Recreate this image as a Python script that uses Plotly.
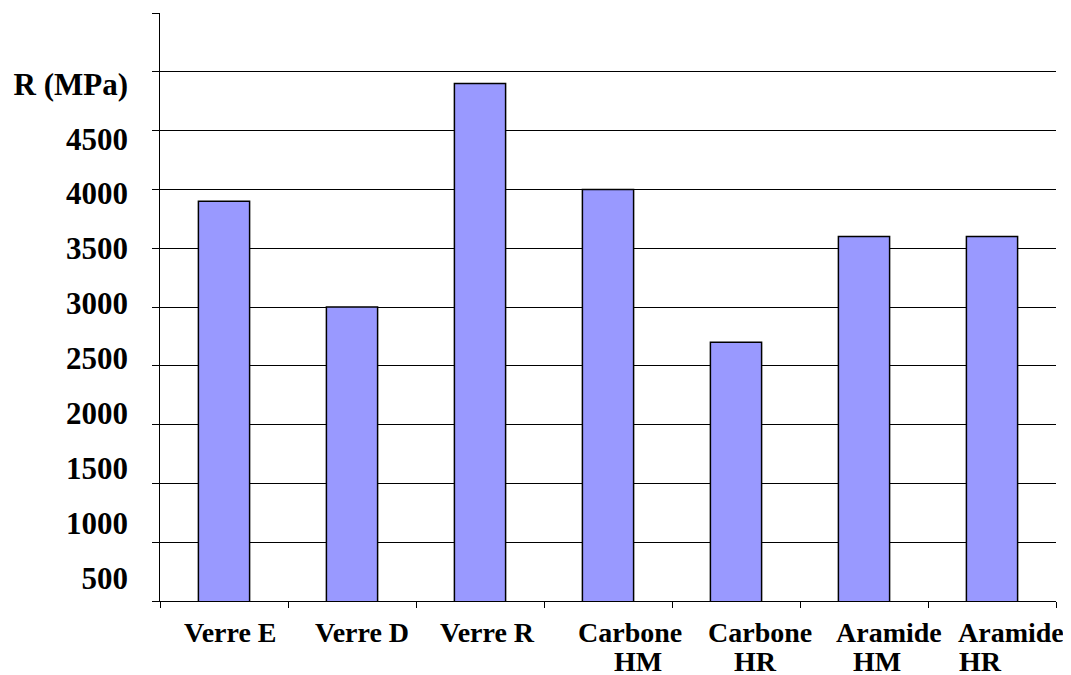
import plotly.graph_objects as go

# ---- data ----
categories = ["Verre E", "Verre D", "Verre R", "Carbone HM", "Carbone HR", "Aramide HM", "Aramide HR"]
label_line1 = ["Verre E", "Verre D", "Verre R", "Carbone", "Carbone", "Aramide", "Aramide"]
label_line2 = ["", "", "", "HM", "HR", "HM", "HR"]
resistance_mpa = [3900, 3000, 4900, 4000, 2700, 3600, 3600]
y_tick_values = [500, 1000, 1500, 2000, 2500, 3000, 3500, 4000, 4500, 5000]
y_tick_labels = ["500", "1000", "1500", "2000", "2500", "3000", "3500", "4000", "4500", "R (MPa)"]

# ---- style ----
FONT = "Liberation Serif, Times New Roman, serif"
line1_shift = [6, 10, 7, 22, 24, 25, 19]
line2_shift = [0, 0, 0, 30, 19, 13, -12]

fig = go.Figure()
fig.add_trace(go.Bar(
    x=categories, y=resistance_mpa, width=0.4,
    marker=dict(color="#9999FF", line=dict(color="black", width=1.5)),
    showlegend=False, hoverinfo="x+y",
))
# carrier for the left label axis
fig.add_trace(go.Scatter(
    x=categories, y=[None] * len(categories), yaxis="y2", mode="markers",
    showlegend=False, hoverinfo="skip",
))

annotations = []
for i, cat in enumerate(categories):
    annotations.append(dict(x=cat, xref="x", y=0, yref="paper", text=label_line1[i],
                            showarrow=False, yanchor="middle", yshift=-31, xshift=line1_shift[i],
                            font=dict(family=FONT, size=28, color="black", weight="bold")))
    if label_line2[i]:
        annotations.append(dict(x=cat, xref="x", y=0, yref="paper", text=label_line2[i],
                                showarrow=False, yanchor="middle", yshift=-60, xshift=line2_shift[i],
                                font=dict(family=FONT, size=28, color="black", weight="bold")))

fig.update_layout(
    width=1063, height=667,
    margin=dict(l=152, r=15, t=5, b=74),
    paper_bgcolor="white", plot_bgcolor="white",
    xaxis=dict(
        type="category", tickson="boundaries", showticklabels=False,
        ticks="outside", ticklen=6, tickcolor="black", tickwidth=1,
        showline=True, linecolor="black", linewidth=1, showgrid=False,
        range=[-0.5, 6.5],
    ),
    yaxis=dict(
        range=[500, 5500], dtick=500, tick0=500,
        showticklabels=False, ticks="outside", ticklen=7, tickcolor="black",
        showgrid=True, gridcolor="black", gridwidth=1,
        showline=True, linecolor="black", linewidth=1, zeroline=False,
    ),
    yaxis2=dict(
        overlaying="y", side="left", range=[295, 5643],
        tickmode="array", tickvals=y_tick_values, ticktext=y_tick_labels,
        showgrid=False, showline=False, zeroline=False, ticks="", ticklabelstandoff=31,
        tickfont=dict(family=FONT, size=31, color="black", weight="bold"),
    ),
    annotations=annotations,
)

fig.write_html("out.html")
